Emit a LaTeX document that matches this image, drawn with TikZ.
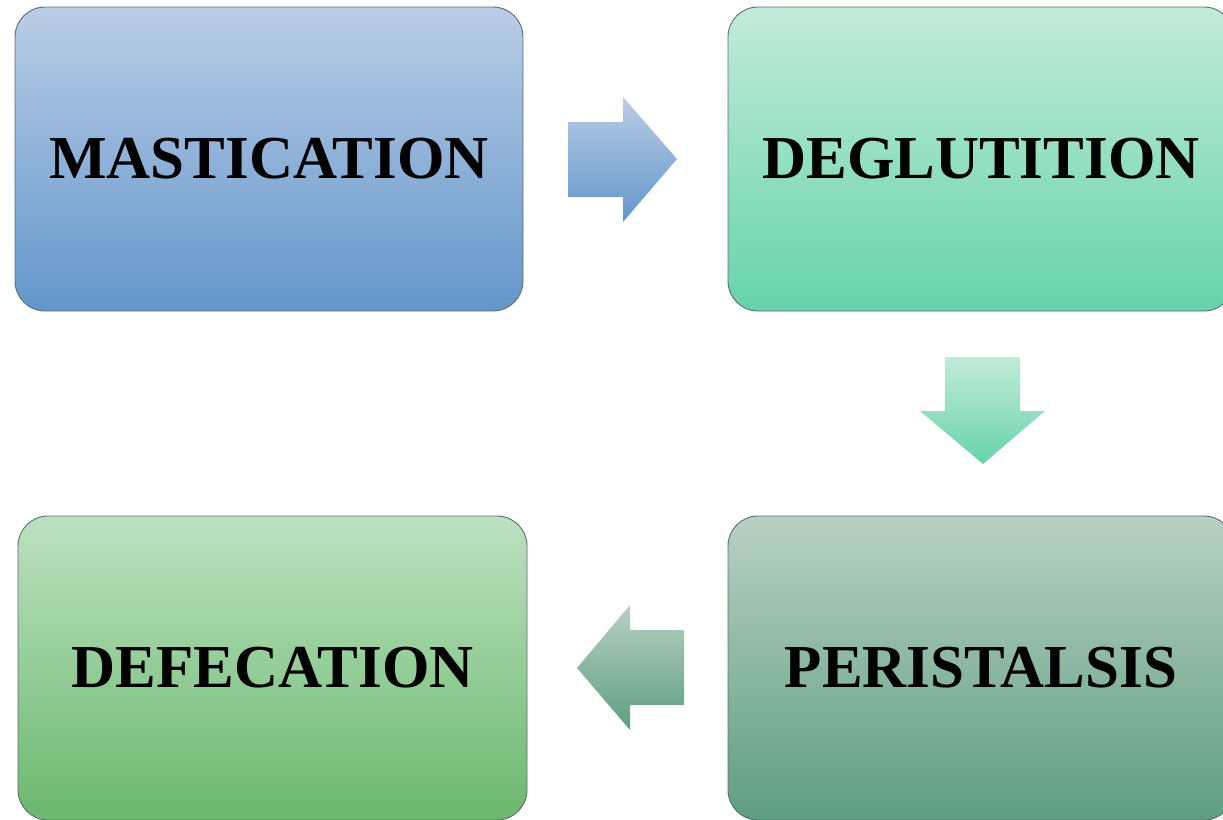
\documentclass[tikz,border=0pt]{standalone}
\usepackage{fontspec}
\setmainfont{Liberation Serif}
\definecolor{mTop}{HTML}{BACDE6}
\definecolor{mBot}{HTML}{6396CB}
\definecolor{dTop}{HTML}{C2EBD9}
\definecolor{dBot}{HTML}{66D3AA}
\definecolor{pTop}{HTML}{B8D0C2}
\definecolor{pBot}{HTML}{5E9E80}
\definecolor{fTop}{HTML}{BDE1C1}
\definecolor{fBot}{HTML}{6BB86F}
\definecolor{edge}{HTML}{5F6B73}
\tikzset{
  stagebox/.style={draw=edge, line width=0.9pt, rounded corners=30pt,
    minimum width=#1, minimum height=304pt, inner sep=0pt,
    font=\fontsize{61}{70}\selectfont\bfseries, text=black},
  blockarrow/.style={draw=none}
}
\begin{document}
\begin{tikzpicture}[x=1pt,y=-1pt]
\useasboundingbox (0,0) rectangle (1223,819);
\clip (0,0) rectangle (1223,819);
\node[stagebox=508pt, top color=mTop, bottom color=mBot] (mast) at (269,159) {MASTICATION};
\node[stagebox=506pt, top color=dTop, bottom color=dBot] (degl) at (981,159) {DEGLUTITION};
\node[stagebox=506pt, top color=pTop, bottom color=pBot] (peri) at (981,668) {PERISTALSIS};
\node[stagebox=509pt, top color=fTop, bottom color=fBot] (defe) at (272.5,668) {DEFECATION};
% right arrow
\path[blockarrow, top color=mTop, bottom color=mBot]
  (568,122) -- (623,122) -- (623,97) -- (677,159) -- (623,222) -- (623,197) -- (568,197) -- cycle;
% down arrow
\path[blockarrow, top color=dTop, bottom color=dBot]
  (945,357) -- (1020,357) -- (1020,411) -- (1045,411) -- (983,464) -- (920,411) -- (945,411) -- cycle;
% left arrow
\path[blockarrow, top color=pTop, bottom color=pBot]
  (684,630) -- (630,630) -- (630,605) -- (577,668) -- (630,730) -- (630,705) -- (684,705) -- cycle;
\end{tikzpicture}
\end{document}
